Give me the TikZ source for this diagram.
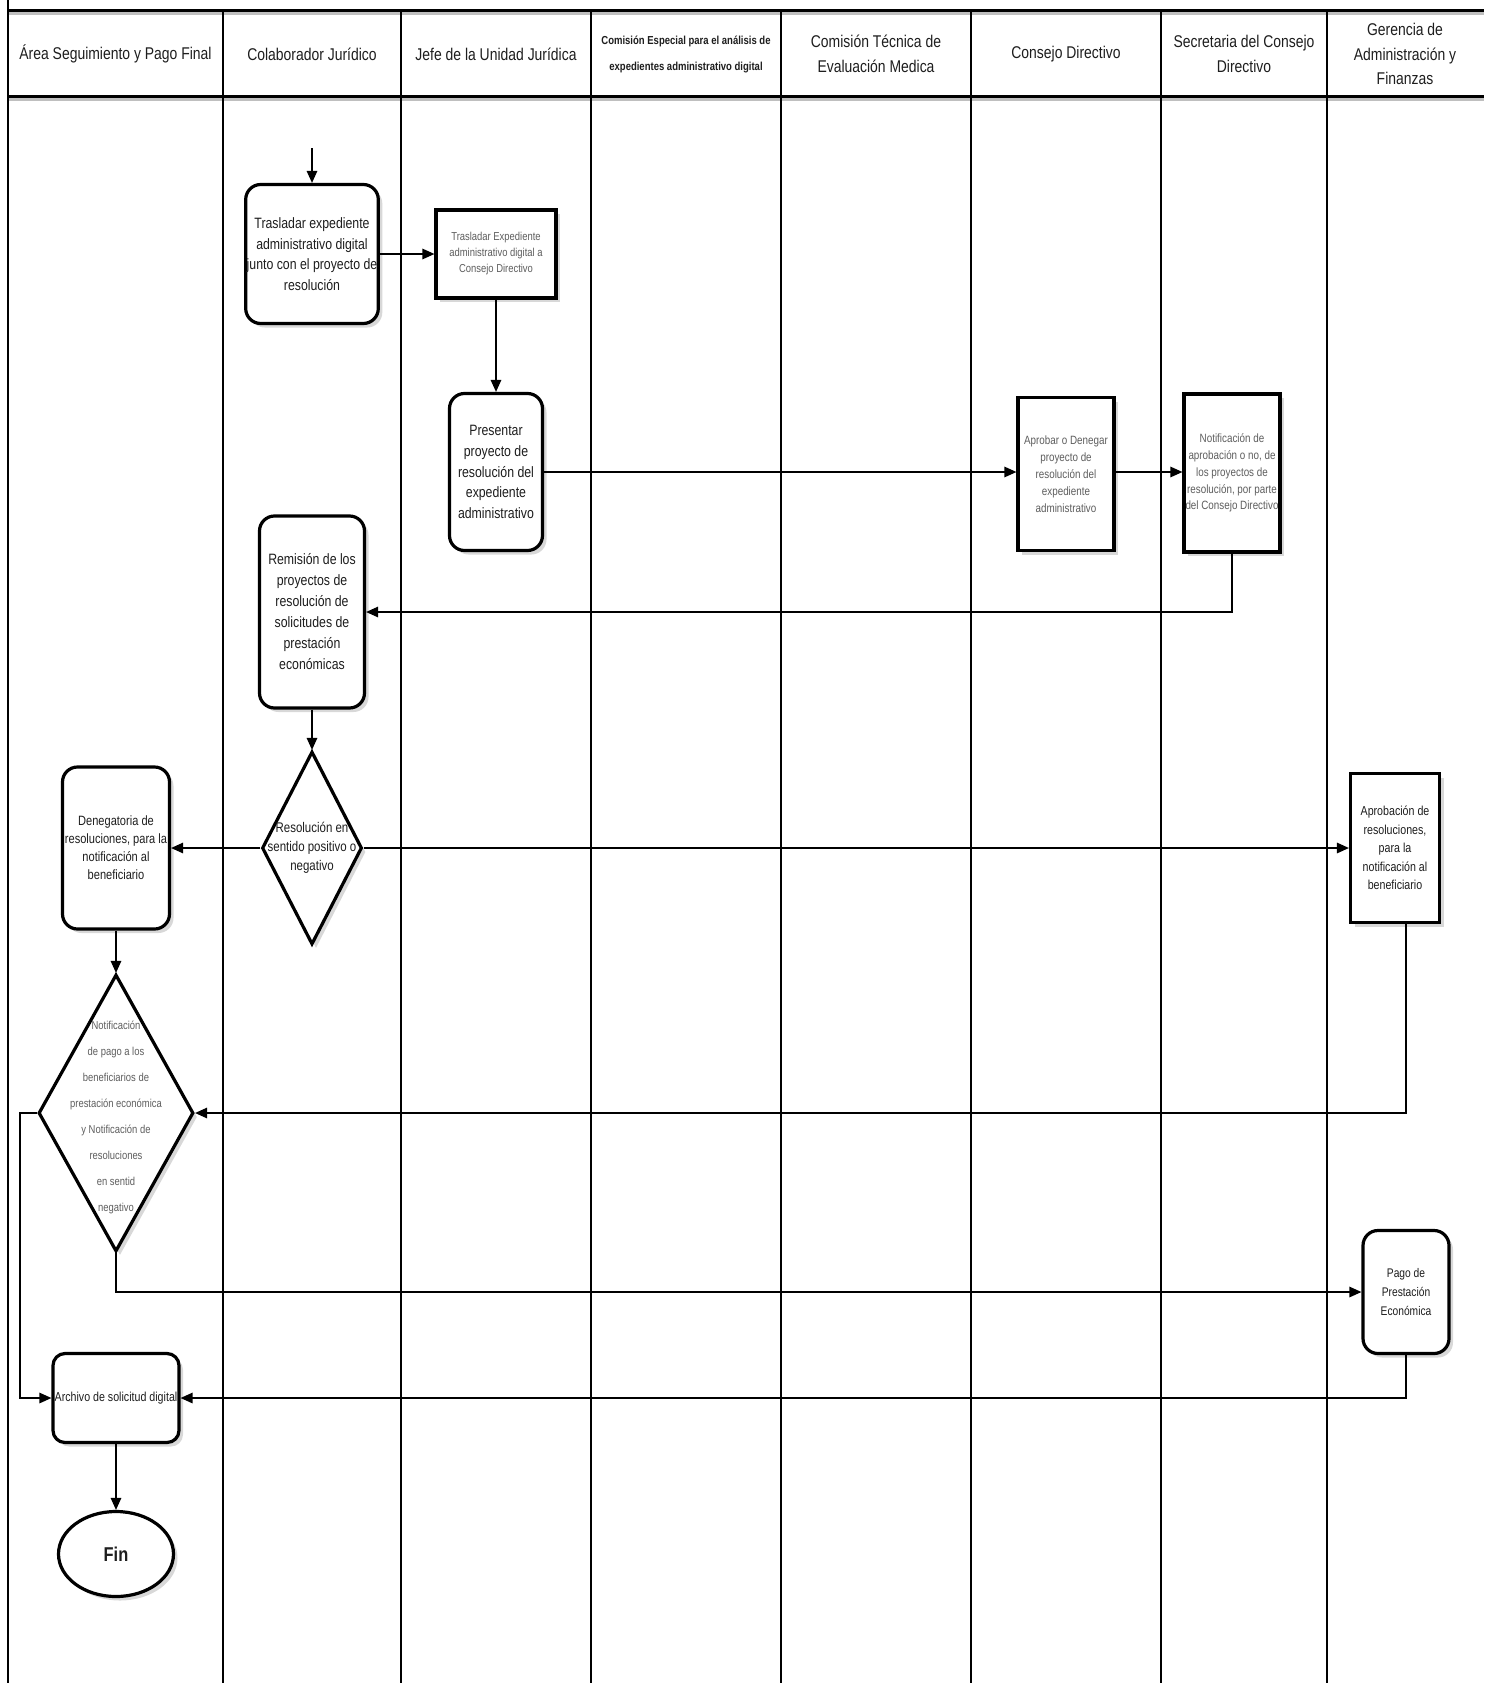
\documentclass[tikz,border=0pt]{standalone}
\usepackage{fontspec}
\setmainfont{Liberation Sans}[FakeStretch=0.82]
\usetikzlibrary{shapes.geometric,shadows,arrows.meta}
\definecolor{txtgray}{HTML}{5E5E5E}
\definecolor{txtdark}{HTML}{1E1E1E}
\begin{document}
\begin{tikzpicture}[x=1pt,y=-1pt,
  lane/.style={line width=2pt},
  hline/.style={line width=3pt},
  hdr/.style={align=center, font=\fontsize{17}{24.7}\selectfont, text=txtdark},
  boxbase/.style={draw, line width=3.2pt, fill=white, align=center, inner sep=1pt, text=txtdark,
    drop shadow={opacity=0.3, shadow xshift=4pt, shadow yshift=-4pt}},
  procr/.style={boxbase, rounded corners=15pt},
  procs/.style={boxbase},
  dec/.style={boxbase, diamond},
  endnode/.style={boxbase, ellipse},
  big/.style={font=\fontsize{15}{20.6}\selectfont},
  small/.style={font=\fontsize{11.5}{16}\selectfont, text=txtgray},
  conn/.style={line width=1.4pt, -{Triangle[length=12pt,width=10.5pt]}}
]
\useasboundingbox (0,0) rectangle (1484,1683);
\fill[white] (0,0) rectangle (1484,1683);

% grid
\draw[hline, black!25] (8,14) -- (1484,14);
\draw[hline, black!25] (8,100) -- (1484,100);
\draw[hline] (8,11) -- (1484,11);
\draw[hline] (8,97) -- (1484,97);
\draw[lane] (8,0) -- (8,1683);
\foreach \x in {223,401,591,781,971,1161,1327} {\draw[lane] (\x,11) -- (\x,1683);}

% headers
\node[hdr] (h1) at (115.5,54) {Área Seguimiento y Pago Final};
\node[hdr] (h2) at (312,54) {Colaborador Jurídico};
\node[hdr] (h3) at (496,54) {Jefe de la Unidad Jurídica};
\node[hdr, font=\bfseries\fontsize{11.6}{26}\selectfont] (h4) at (686,54) {Comisión Especial para el análisis de\\expedientes administrativo digital};
\node[hdr] (h5) at (876,54) {Comisión Técnica de\\Evaluación Medica};
\node[hdr] (h6) at (1066,54) {Consejo Directivo};
\node[hdr] (h7) at (1244,54) {Secretaria del Consejo\\Directivo};
\node[hdr] (h8) at (1405,54) {Gerencia de\\Administración y\\Finanzas};

% nodes
\node[procr, big, minimum width=131pt, minimum height=139pt] (n1) at (312,254)
  {Trasladar expediente\\administrativo digital\\junto con el proyecto de\\resolución};
\node[procs, small, minimum width=120pt, minimum height=88pt] (n2) at (496,254)
  {Trasladar Expediente\\administrativo digital a\\Consejo Directivo};
\node[procr, big, minimum width=93pt, minimum height=157pt] (n3) at (496,472)
  {Presentar\\proyecto de\\resolución del\\expediente\\administrativo};
\node[procs, small, font=\fontsize{12}{16.9}\selectfont, minimum width=96pt, minimum height=153pt] (n4) at (1066,474)
  {Aprobar o Denegar\\proyecto de\\resolución del\\expediente\\administrativo};
\node[procs, small, font=\fontsize{12}{16.9}\selectfont, minimum width=96pt, minimum height=158pt] (n5) at (1232,473)
  {Notificación de\\aprobación o no, de\\los proyectos de\\resolución, por parte\\del Consejo Directivo};
\node[procr, font=\fontsize{15}{21}\selectfont, minimum width=105pt, minimum height=192pt] (n6) at (312,612)
  {Remisión de los\\proyectos de\\resolución de\\solicitudes de\\prestación\\económicas};
\node[dec, minimum width=100pt, minimum height=193pt,
  label={[name=d7t, align=center, text=txtdark, font=\fontsize{14}{18.8}\selectfont]center:Resolución en\\sentido positivo o\\negativo}] (d7) at (312,848) {};
\node[procr, font=\fontsize{13.5}{18}\selectfont, minimum width=107pt, minimum height=162pt] (n8) at (116,848)
  {Denegatoria de\\resoluciones, para la\\notificación al\\beneficiario};
\node[procs, font=\fontsize{13}{18.5}\selectfont, minimum width=89pt, minimum height=149pt] (n9) at (1395,848)
  {Aprobación de\\resoluciones,\\para la\\notificación al\\beneficiario};
\node[dec, minimum width=155pt, minimum height=277pt,
  label={[name=d10t, align=center, text=txtgray, font=\fontsize{11.5}{26}\selectfont, yshift=-4pt]center:Notificación\\de pago a los\\beneficiarios de\\prestación económica\\y Notificación de\\resoluciones\\en sentid\\negativo}] (d10) at (116,1113) {};
\node[procr, font=\fontsize{12.5}{18.8}\selectfont, minimum width=86pt, minimum height=123pt] (n11) at (1406,1292)
  {Pago de\\Prestación\\Económica};
\node[procr, rounded corners=12pt, font=\fontsize{13}{18}\selectfont, minimum width=126pt, minimum height=89pt] (n12) at (116,1398)
  {Archivo de solicitud digital};
\node[endnode, font=\bfseries\fontsize{20}{24}\selectfont, minimum width=115pt, minimum height=85pt] (fin) at (116,1554) {Fin};

% connectors
\coordinate (start) at (312,148);
\draw[conn] (start) -- (n1.north);
\draw[conn] (n1.east) -- (n2.west);
\draw[conn] (n2.south) -- (n3.north);
\draw[conn] (n3.east) -- (n3.east -| n4.west);
\draw[conn] (n4.east |- n3.east) -- (n3.east -| n5.west);
\draw[conn] (n5.south) |- (n6.east);
\draw[conn] (n6.south) -- (d7.north);
\draw[conn] (d7.west) -- (n8.east);
\draw[conn] (d7.east) -- (n9.west);
\draw[conn] (n8.south) -- (d10.north);
\draw[conn] ([xshift=11pt]n9.south) |- (d10.east);
\draw[conn] (d10.south) |- (n11.west);
\draw[conn] (d10.west) -- ++(-17,0) |- (n12.west);
\draw[conn] (n11.south) |- (n12.east);
\draw[conn] (n12.south) -- (fin.north);
\end{tikzpicture}
\end{document}
